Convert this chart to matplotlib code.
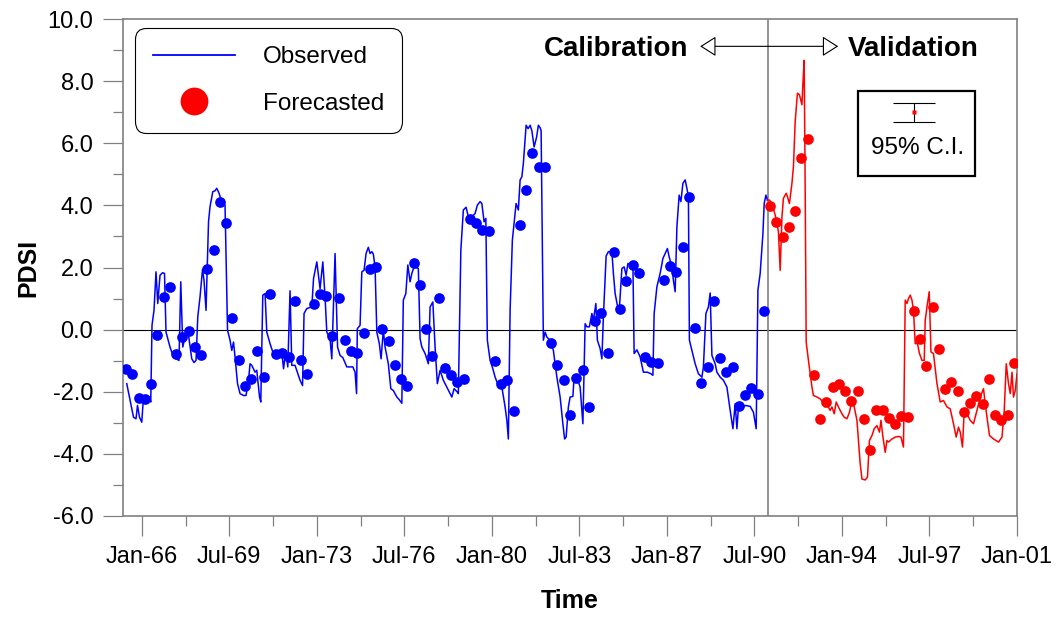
import numpy as np
import matplotlib
matplotlib.use("Agg")
import matplotlib.pyplot as plt
from matplotlib.lines import Line2D
from matplotlib.patches import Rectangle

plt.rcParams['font.family'] = ['Liberation Sans', 'DejaVu Sans']

# observed PDSI, read as (decimal year, value) vertices
obs_year = [1965.40, 1965.67, 1965.77, 1965.83, 1965.91, 1966.00, 1966.07, 1966.31, 1966.36, 1966.41,
            1966.49, 1966.57, 1966.64, 1966.73, 1966.83, 1966.91, 1966.97, 1967.13, 1967.27, 1967.37,
            1967.49, 1967.56, 1967.64, 1967.73, 1967.80, 1967.87, 1968.00, 1968.09, 1968.17, 1968.24,
            1968.33, 1968.43, 1968.49, 1968.57, 1968.67, 1968.73, 1968.84, 1968.93, 1969.00, 1969.09,
            1969.20, 1969.33, 1969.43, 1969.53, 1969.60, 1969.67, 1969.73, 1969.83, 1969.93, 1970.07,
            1970.17, 1970.27, 1970.33, 1970.40, 1970.53, 1970.60, 1970.71, 1970.76, 1970.84, 1970.93,
            1971.00, 1971.13, 1971.24, 1971.47, 1971.60, 1971.67, 1971.76, 1971.84, 1971.93, 1972.00,
            1972.13, 1972.33, 1972.43, 1972.49, 1972.60, 1972.80, 1972.87, 1973.00, 1973.13, 1973.24,
            1973.33, 1973.40, 1973.53, 1973.60, 1973.73, 1973.83, 1973.93, 1974.04, 1974.20, 1974.44,
            1974.53, 1974.59, 1974.62, 1974.73, 1974.80, 1974.89, 1974.97, 1975.06, 1975.13, 1975.20,
            1975.26, 1975.33, 1975.40, 1975.50, 1975.57, 1975.66, 1975.73, 1975.86, 1975.96, 1976.06,
            1976.20, 1976.30, 1976.40, 1976.46, 1976.56, 1976.64, 1976.73, 1976.80, 1976.89, 1977.06,
            1977.13, 1977.20, 1977.33, 1977.46, 1977.53, 1977.64, 1977.73, 1977.82, 1977.93, 1978.06,
            1978.20, 1978.40, 1978.49, 1978.62, 1978.66, 1978.76, 1978.86, 1978.97, 1979.06, 1979.20,
            1979.33, 1979.42, 1979.53, 1979.60, 1979.69, 1979.76, 1979.82, 1979.93, 1980.04, 1980.13,
            1980.26, 1980.40, 1980.53, 1980.60, 1980.66, 1980.73, 1980.82, 1980.89, 1980.97, 1981.06,
            1981.13, 1981.20, 1981.26, 1981.37, 1981.45, 1981.53, 1981.60, 1981.69, 1981.79, 1981.86,
            1981.93, 1981.97, 1982.06, 1982.13, 1982.20, 1982.33, 1982.46, 1982.60, 1982.73, 1982.84,
            1982.91, 1982.97, 1983.06, 1983.13, 1983.24, 1983.29, 1983.40, 1983.53, 1983.64, 1983.73,
            1983.80, 1983.90, 1984.00, 1984.06, 1984.16, 1984.22, 1984.33, 1984.40, 1984.46, 1984.57,
            1984.66, 1984.80, 1984.86, 1984.93, 1985.02, 1985.10, 1985.20, 1985.29, 1985.37, 1985.44,
            1985.53, 1985.64, 1985.69, 1985.80, 1985.93, 1986.06, 1986.22, 1986.36, 1986.44, 1986.49,
            1986.60, 1986.73, 1986.84, 1986.93, 1987.02, 1987.09, 1987.20, 1987.26, 1987.33, 1987.40,
            1987.49, 1987.56, 1987.64, 1987.73, 1987.80, 1987.86, 1987.90, 1988.00, 1988.13, 1988.26,
            1988.40, 1988.46, 1988.56, 1988.66, 1988.73, 1988.80, 1988.93, 1989.00, 1989.13, 1989.26,
            1989.40, 1989.53, 1989.64, 1989.73, 1989.80, 1989.86, 1990.00, 1990.13, 1990.33, 1990.46,
            1990.57, 1990.64, 1990.73, 1990.84, 1990.89, 1990.96, 1991.02,
            # validation period
            1991.10, 1991.20, 1991.33, 1991.46, 1991.53, 1991.60, 1991.66, 1991.77, 1991.82, 1991.90,
            1992.00, 1992.06, 1992.13, 1992.22, 1992.30, 1992.40, 1992.44, 1992.49, 1992.53, 1992.57,
            1992.66, 1992.73, 1992.80, 1992.86, 1993.00, 1993.13, 1993.24, 1993.33, 1993.42, 1993.53,
            1993.60, 1993.69, 1993.77, 1993.86, 1994.00, 1994.09, 1994.20, 1994.30, 1994.40, 1994.49,
            1994.60, 1994.66, 1994.73, 1994.80, 1994.93, 1995.02, 1995.10, 1995.20, 1995.29, 1995.40,
            1995.50, 1995.56, 1995.64, 1995.73, 1995.80, 1995.86, 1996.00, 1996.13, 1996.26, 1996.36,
            1996.46, 1996.53, 1996.60, 1996.66, 1996.73, 1996.80, 1996.86, 1996.93, 1997.02, 1997.10,
            1997.20, 1997.29, 1997.33, 1997.40, 1997.49, 1997.56, 1997.66, 1997.80, 1997.93, 1998.06,
            1998.20, 1998.33, 1998.46, 1998.57, 1998.66, 1998.73, 1998.82, 1998.89, 1999.00, 1999.13,
            1999.26, 1999.40, 1999.53, 1999.66, 1999.73, 1999.80, 1999.90, 2000.06, 2000.26, 2000.40,
            2000.49, 2000.57, 2000.66, 2000.73, 2000.80, 2000.86, 2000.93, 2001.00]
obs_pdsi = [-1.74, -2.82, -2.87, -2.44, -2.82, -2.98, -2.17, -2.17, -2.33, 0.14,
            0.62, 1.86, 0.84, 1.75, 1.83, 1.81, -0.08, -0.56, -0.88, -0.94,
            -0.99, 1.54, -0.56, -0.24, -0.13, -0.18, -0.94, -1.06, -0.99, 0.41,
            1.05, 1.94, 1.59, 0.62, 3.47, 3.96, 4.44, 4.47, 4.55, 4.39,
            4.12, 4.01, -0.02, -0.34, -0.67, -0.40, -0.88, -1.74, -2.06, -2.12,
            -2.12, -1.63, -1.10, -1.15, -1.37, -1.31, -2.17, -2.33, 1.11, 1.16,
            -0.08, -0.45, -0.72, -0.75, -0.72, -1.26, -0.67, -1.20, 1.25, -1.15,
            -1.15, -1.63, -1.80, 0.52, 0.68, 0.73, 1.65, 2.18, 1.32, 2.18,
            1.05, -0.08, -0.29, -0.94, 2.45, -0.56, -0.83, -0.90, -1.20, -1.20,
            -1.37, -2.06, 0.03, 0.14, 1.86, 1.91, 2.45, 2.65, 2.45, 2.51,
            2.43, 2.02, -0.08, -0.45, -0.94, -0.02, -0.56, -1.10, -1.90, -1.96,
            -2.17, -2.26, -2.37, 0.95, 1.16, 2.08, 1.54, 1.81, 2.02, 1.97,
            -0.29, -0.56, -0.77, -1.10, 0.73, 0.89, -0.56, -1.74, -1.31, -1.63,
            -1.85, -2.17, -1.90, -2.01, -2.06, 2.56, 3.85, 3.94, 3.63, 3.63,
            3.74, 4.01, 4.12, 4.06, 3.47, 3.58, -0.34, -0.99, -1.26, -1.53,
            -1.80, -1.85, -2.49, -2.92, -3.52, 0.62, 2.88, 3.42, 4.06, 3.85,
            4.82, 4.92, 5.35, 6.58, 6.47, 6.58, 6.40, 5.88, 6.20, 6.58,
            6.50, 6.40, -0.34, -0.08, -0.24, -0.34, -0.67, -1.53, -2.17, -3.03,
            -3.52, -3.46, -2.49, -2.17, -2.15, -1.53, -1.53, -1.85, -3.03, 0.19,
            0.09, 0.09, 0.52, 0.30, 0.84, -0.34, -0.61, -0.94, 0.41, 2.37,
            2.51, 2.51, 1.81, 1.16, 0.78, 0.68, 1.97, 2.02, 1.75, 2.13,
            2.08, 2.13, -0.77, -0.65, -0.88, -1.37, -1.37, -1.42, -1.47, 0.52,
            1.38, 1.81, 2.29, 2.45, 2.61, 2.34, 2.02, 1.59, 1.22, 3.31,
            4.33, 4.12, 4.71, 4.82, 4.55, 4.28, -0.34, -0.67, -1.10, -1.42,
            -1.53, -1.20, 0.52, 0.73, 1.18, -0.83, -1.10, -1.37, -1.53, -1.63,
            -1.85, -2.60, -3.19, -2.39, -3.19, -2.49, -2.55, -2.44, -2.47, -2.66,
            -3.19, 1.27, 1.81, 3.10, 4.06, 4.33, 4.17,
            4.17, 4.06, 3.69, 3.15, 1.91, 3.63, 4.23, 4.39, 4.28, 4.06,
            4.71, 5.25, 6.70, 7.61, 7.56, 7.24, 7.94, 8.67, 4.49, -0.40,
            -0.99, -1.42, -1.85, -2.12, -2.17, -2.23, -2.33, -2.49, -2.44, -2.60,
            -2.49, -2.71, -2.33, -2.49, -2.71, -2.82, -2.87, -2.66, -2.28, -2.49,
            -2.92, -3.57, -4.32, -4.81, -4.84, -4.75, -3.57, -3.41, -3.19, -3.09,
            -3.30, -2.92, -3.46, -3.95, -3.57, -3.62, -3.52, -3.46, -3.44, -3.46,
            -3.78, 0.95, 0.84, 1.00, 1.11, 0.95, 0.62, -0.45, -0.45, -0.77,
            -0.99, -0.99, 0.30, 0.73, 1.22, -0.72, -0.77, -1.74, -2.33, -2.28,
            -2.49, -2.55, -3.03, -3.46, -3.14, -3.30, -3.78, -2.60, -2.71, -2.92,
            -3.03, -2.60, -2.17, -1.90, -2.39, -2.82, -3.41, -3.52, -3.62, -3.46,
            -2.60, -1.10, -1.74, -2.06, -1.37, -2.17, -1.96, -1.42]

# forecasted PDSI, quarterly from May 1965
fc_start = 1965.375
fc_pdsi = [-1.26, -1.42, -2.19, -2.23, -1.74, -0.16, 1.05, 1.38, -0.80, -0.24,
           -0.04, -0.56, -0.83, 1.94, 2.56, 4.12, 3.44, 0.39, -0.97, -1.82,
           -1.58, -0.68, -1.53, 1.16, -0.77, -0.75, -0.88, 0.92, -0.97, -1.42,
           0.84, 1.14, 1.09, -0.20, 1.02, -0.32, -0.70, -0.74, -0.11, 1.94,
           2.02, 0.01, -0.38, -1.15, -1.58, -1.80, 2.13, 1.43, 0.03, -0.86,
           1.03, -1.24, -1.47, -1.69, -1.58, 3.55, 3.42, 3.20, 3.18, -1.01,
           -1.74, -1.61, -2.62, 3.37, 4.49, 5.68, 5.22, 5.22, -0.42, -1.15,
           -1.61, -2.76, -1.56, -1.31, -2.49, 0.28, 0.54, -0.75, 2.51, 0.65,
           1.57, 2.08, 1.83, -0.88, -1.04, -1.06, 1.61, 2.05, 1.86, 2.67,
           4.26, 0.06, -1.72, -1.20, 0.91, -0.90, -1.37, -1.20, -2.47, -2.09,
           -1.87, -2.06, 0.59, 3.98, 3.47, 2.97, 3.31, 3.83, 5.52, 6.13,
           -1.45, -2.87, -2.33, -1.85, -1.76, -1.96, -2.30, -1.99, -2.87, -3.87,
           -2.60, -2.60, -2.85, -3.03, -2.78, -2.82, 0.59, -0.29, -1.18, 0.73,
           -0.61, -1.90, -1.69, -1.99, -2.66, -2.37, -2.15, -2.39, -1.58, -2.76,
           -2.92, -2.76, -1.08]

split_year = 1991.04   # end of calibration period
tick_years = [1966, 1969.5, 1973, 1976.5, 1980, 1983.5, 1987, 1990.5, 1994, 1997.5, 2001]
tick_labels = ['Jan-66', 'Jul-69', 'Jan-73', 'Jul-76', 'Jan-80', 'Jul-83',
               'Jan-87', 'Jul-90', 'Jan-94', 'Jul-97', 'Jan-01']

obs_year = np.array(obs_year)
obs_pdsi = np.array(obs_pdsi)
fc_pdsi = np.array(fc_pdsi)
fc_year = fc_start + 0.25 * np.arange(len(fc_pdsi))

fig = plt.figure(figsize=(10.6, 6.17), dpi=100)
ax = fig.add_axes([123/1060, 1 - 516/617, (1017 - 123)/1060, (516 - 19)/617])

cal = obs_year <= split_year
val = obs_year >= 1991.02
ax.plot(obs_year[cal], obs_pdsi[cal], color='#0000FF', lw=1.1, zorder=3)
ax.plot(obs_year[val], obs_pdsi[val], color='#FF0000', lw=1.1, zorder=3)
fcal = fc_year < split_year
ax.plot(fc_year[fcal], fc_pdsi[fcal], 'o', color='#0000FF', ms=7.7, mec='none', zorder=4)
ax.plot(fc_year[~fcal], fc_pdsi[~fcal], 'o', color='#FF0000', ms=7.7, mec='none', zorder=4)

ax.axhline(0, color='black', lw=0.8, zorder=2)
ax.axvline(split_year, color='#808080', lw=1.2, zorder=2)

ax.set_xlim(1965.25, 2001.0)
ax.set_ylim(-6, 10)
ax.set_xticks(tick_years)
ax.set_xticklabels(tick_labels)
ax.set_xticks([t + 1.75 for t in tick_years[:-1]], minor=True)
ax.set_yticks(np.arange(-6, 11, 2))
ax.set_yticks(np.arange(-5, 10, 2), minor=True)
ax.yaxis.set_major_formatter(matplotlib.ticker.FuncFormatter(lambda v, p: f"{v:.1f}"))
ax.tick_params(which='major', direction='out', length=14.4, width=0.9, color='#808080',
               labelsize=17, pad=7)
ax.tick_params(which='minor', direction='out', length=7.2, width=0.9, color='#808080')
for s in ax.spines.values():
    s.set_color('#808080')
    s.set_linewidth(1.2)

ax.set_xlabel('Time', fontsize=18, fontweight='bold', va='center')
ax.xaxis.set_label_coords(0.5, -0.172)
ax.set_ylabel('PDSI', fontsize=18, fontweight='bold', va='center')
ax.yaxis.set_label_coords(-0.106, 0.5)

# calibration / validation arrows
arrow_y = 9.12
for x_end in (1988.33, 1993.85):
    ax.annotate('', xy=(x_end, arrow_y), xytext=(split_year, arrow_y),
                arrowprops=dict(arrowstyle='-|>,head_length=0.55,head_width=0.35',
                                fc='white', ec='black', lw=0.8,
                                shrinkA=0, shrinkB=0, mutation_scale=18))
ax.text(1987.85, 9.05, 'Calibration', ha='right', va='center', fontsize=20, fontweight='bold')
ax.text(1994.25, 9.05, 'Validation', ha='left', va='center', fontsize=20, fontweight='bold')

# confidence interval key box
ax.add_patch(Rectangle((1994.66, 4.95), 4.67, 2.74, fc='white', ec='black', lw=1.6, zorder=5))
ax.errorbar([1996.90], [6.99], yerr=[0.32], color='black', lw=0.8, capsize=15, capthick=0.8,
            zorder=6, fmt='none')
ax.plot([1996.90], [6.99], 's', color='#FF0000', ms=2.5, mec='none', zorder=7)
ax.text(1997.04, 5.86, '95% C.I.', ha='center', va='center', fontsize=17.5, zorder=7)

handles = [Line2D([], [], color='#0000FF', lw=1.3),
           Line2D([], [], color='#FF0000', marker='o', ls='none', ms=20, mec='none')]
leg = fig.legend(handles, ['Observed', 'Forecasted'], loc='upper left',
                 bbox_to_anchor=(135/1060, 1 - 28/617), borderaxespad=0,
                 fontsize=17.5, handlelength=3.35, handletextpad=1.15,
                 borderpad=0.75, labelspacing=1.0, fancybox=True, framealpha=1)
leg.get_frame().set_edgecolor('black')
leg.get_frame().set_linewidth(0.8)
leg.get_frame().set_boxstyle('round,pad=0,rounding_size=0.47')

fig.savefig('out.png', dpi=100)
